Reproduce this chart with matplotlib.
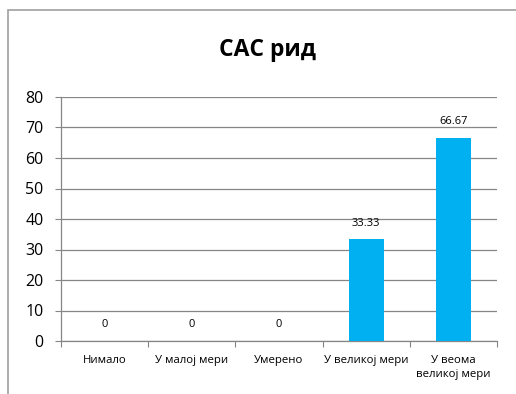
import numpy as np
import matplotlib.pyplot as plt
from matplotlib.patches import Rectangle

categories = ['Нимало', 'У малој мери', 'Умерено', 'У великој мери', 'У веома\nвеликој мери']
values = [0, 0, 0, 33.33, 66.67]
labels = ['0', '0', '0', '33.33', '66.67']
yticks = [0, 10, 20, 30, 40, 50, 60, 70, 80]

plt.rcParams['font.family'] = ['Open Sans', 'DejaVu Sans']

fig = plt.figure(figsize=(5.16, 3.94), dpi=100)
# chart frame (cropped on right and bottom)
fig.patches.append(Rectangle((8 / 516, -0.1), 1.2, 1 - 10 / 394 + 0.1,
                             transform=fig.transFigure, fill=False,
                             edgecolor='#a0a0a0', linewidth=1.2))

ax = fig.add_axes([61 / 516, 1 - 341 / 394, (497 - 61) / 516, (341 - 97) / 394])
x = np.arange(len(categories))
ax.bar(x, values, width=0.4, color='#00B0F0', zorder=3)
for xi, v, lab in zip(x, values, labels):
    ax.text(xi, v + 3.5, lab, ha='center', va='bottom', fontsize=8, color='#000000')

ax.set_xlim(-0.5, len(categories) - 0.5)
ax.set_ylim(0, 80)
ax.set_yticks(yticks)
ax.set_yticklabels([str(t) for t in yticks], fontsize=11.5)
ax.yaxis.grid(True, color='#868686', linewidth=0.9, zorder=0)
ax.set_axisbelow(True)

ax.set_xticks(np.arange(len(categories) + 1) - 0.5)
ax.set_xticklabels([])
ax.set_xticks(x, minor=True)
ax.set_xticklabels(categories, minor=True, fontsize=8.2, linespacing=1.45)
ax.tick_params(axis='x', which='minor', length=0, pad=10)
ax.tick_params(axis='x', which='major', length=4, color='#868686')
ax.tick_params(axis='y', length=4.5, color='#868686', pad=8)

for s in ['top', 'right']:
    ax.spines[s].set_visible(False)
for s in ['left', 'bottom']:
    ax.spines[s].set_color('#868686')
    ax.spines[s].set_linewidth(0.9)

fig.text(0.518, 1 - 50 / 394, 'САС рид', ha='center', va='center',
         fontsize=16.5, fontweight='bold')

plt.savefig('out.png', dpi=100)
